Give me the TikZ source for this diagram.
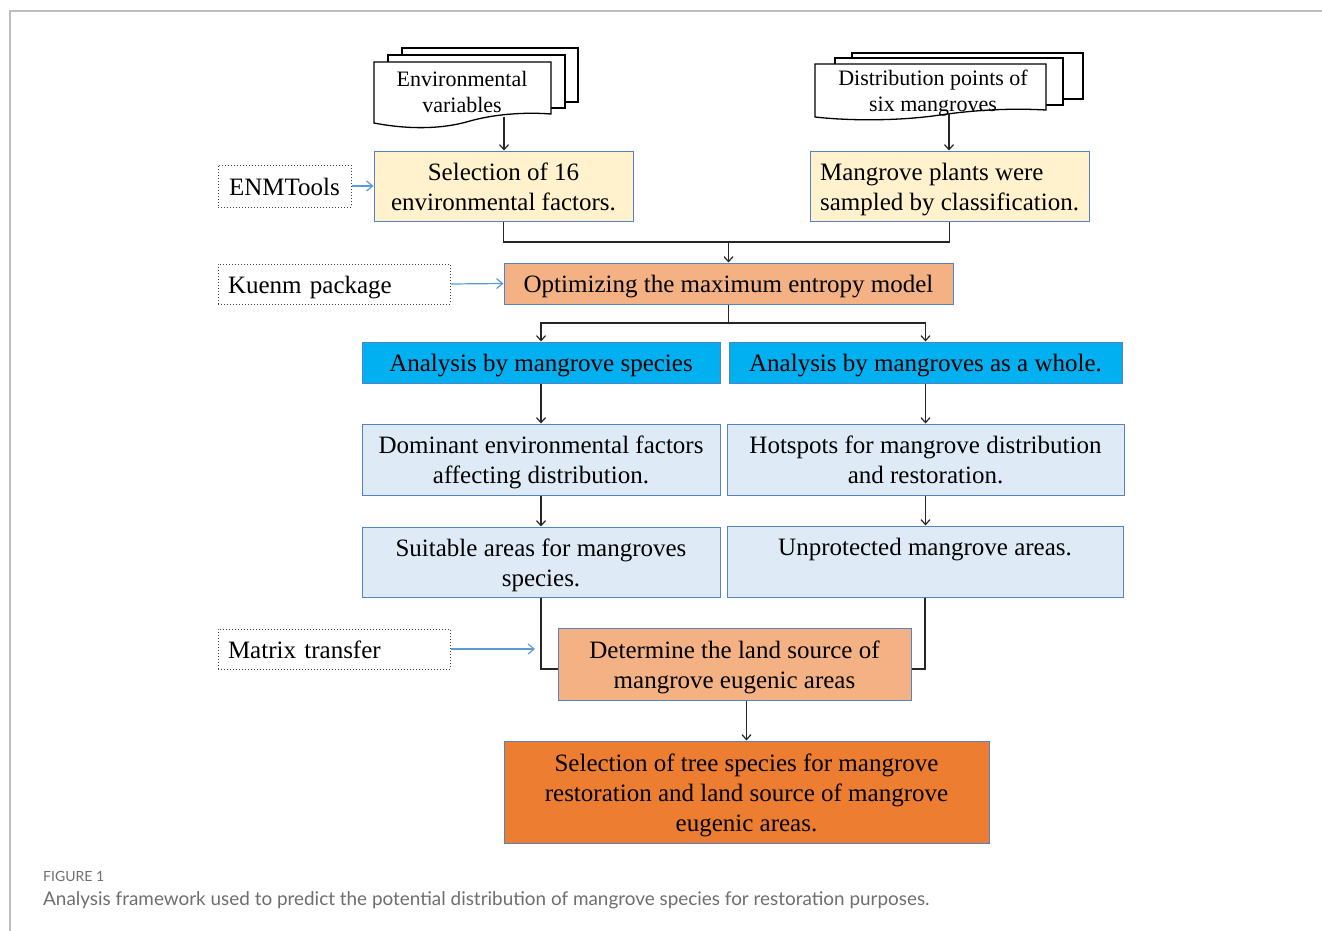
\documentclass[tikz,border=0pt]{standalone}
\usepackage{fontspec}
\setmainfont{Liberation Serif}
\newfontfamily\capfont{Lato}
\usetikzlibrary{arrows.meta,calc}
\newcommand\mys{\rule[-6pt]{0pt}{30pt}}
\newcommand\dys{\rule[-6pt]{0pt}{26pt}}
\definecolor{bord}{RGB}{84,130,195}
\definecolor{yel}{HTML}{FFF2CC}
\definecolor{salm}{HTML}{F4B183}
\definecolor{bblue}{HTML}{00B0F0}
\definecolor{lblue}{HTML}{DEEBF7}
\definecolor{orng}{HTML}{ED7D31}
\definecolor{arrblue}{HTML}{5B9BD5}
\definecolor{framegray}{RGB}{190,190,190}
\definecolor{capgray}{RGB}{110,110,110}
\tikzset{
  box/.style={draw=bord, line width=1pt, inner sep=0pt, align=center,
    font=\fontsize{25}{30}\selectfont},
  side/.style={draw=black!75, dotted, line width=1pt, inner sep=0pt, align=left,
    font=\fontsize{25}{30}\selectfont},
  doc/.style={draw=black, line width=1.3pt, fill=white},
  arr/.style={draw=black!85, line width=1.2pt, -{Straight Barb[length=5pt,width=9pt]}},
  ln/.style={draw=black!85, line width=1.2pt},
  barr/.style={draw=arrblue, line width=1.2pt, -{Straight Barb[length=6pt,width=10pt]}},
  doctext/.style={align=center, inner sep=0pt, font=\fontsize{22}{26}\selectfont}
}
\begin{document}
\begin{tikzpicture}[x=1pt,y=-1pt]
\useasboundingbox (0,0) rectangle (1322,931);
% frame
\draw[framegray, line width=1.2pt] (10,931) -- (10,11) -- (1322,11);

% document stack 1
\draw[doc] (402,48) rectangle (578,102);
\draw[doc] (388,55) rectangle (565,108);
\draw[doc] (374,62) -- (551,62) -- (551,114)
  .. controls (525,112) and (495,114) .. (470,121)
  .. controls (440,130) and (405,129) .. (374,123) -- cycle;
\node[doctext] (env) at (462,93) {\dys Environmental\\\dys variables};
\coordinate (envb) at (504,117);

% document stack 2
\draw[doc] (852,53) rectangle (1083,99);
\draw[doc] (835,58) rectangle (1063,105);
\draw[doc] (815,64) -- (1046,64) -- (1046,110)
  .. controls (1010,108) and (975,110) .. (940,115)
  .. controls (900,121) and (850,121) .. (815,117) -- cycle;
\node[doctext] (dist) at (933,92) {\dys Distribution points of\\\dys six mangroves};
\coordinate (distb) at (949,113);

% main boxes
\node[box, fill=yel, minimum width=259pt, minimum height=70pt] (sel) at (503.5,186)
  {\mys Selection of 16\\\mys environmental factors.};
\node[box, fill=yel, minimum width=279pt, minimum height=70pt, align=left] (msamp) at (949.5,186)
  {\mys Mangrove plants were\\\mys sampled by classification.};
\node[side, minimum width=133pt, minimum height=42pt] (enm) at (284.5,186) {\mys ENMTools};
\node[side, minimum width=232pt, minimum height=40pt, text width=212pt] (kuenm) at (334,284) {\mys Kuenm package};
\node[box, fill=salm, minimum width=449pt, minimum height=41pt] (opt) at (728.5,283.5)
  {\mys Optimizing the maximum entropy model};
\node[box, fill=bblue, minimum width=358pt, minimum height=41pt] (asp) at (541,362.5)
  {\mys Analysis by mangrove species};
\node[box, fill=bblue, minimum width=393pt, minimum height=41pt] (awh) at (925.5,362.5)
  {\mys Analysis by mangroves as a whole.};
\node[box, fill=lblue, minimum width=358pt, minimum height=71pt] (dom) at (541,459.5)
  {\mys Dominant environmental factors\\\mys affecting distribution.};
\node[box, fill=lblue, minimum width=397pt, minimum height=71pt] (hot) at (925.5,459.5)
  {\mys Hotspots for mangrove distribution\\\mys and restoration.};
\node[box, fill=lblue, minimum width=358pt, minimum height=70pt] (suit) at (541,562)
  {\mys Suitable areas for mangroves\\\mys species.};
\node[box, fill=lblue, minimum width=396pt, minimum height=71pt] (unp) at (925,561.5)
  {\mys Unprotected mangrove areas.\\\mys};
\node[side, minimum width=232pt, minimum height=40pt, text width=212pt] (mtx) at (334,649) {\mys Matrix transfer};
\node[box, fill=salm, minimum width=353pt, minimum height=72pt] (det) at (734.5,664)
  {\mys Determine the land source of\\\mys mangrove eugenic areas};
\node[box, fill=orng, minimum width=485pt, minimum height=102pt] (fin) at (746.5,792)
  {\mys Selection of tree species for mangrove\\\mys restoration and land source of mangrove\\\mys eugenic areas.};
\coordinate (mt) at (535,649);

% connectors
\draw[arr] (envb) -- (sel.north -| envb);
\draw[arr] (distb) -- (msamp.north -| distb);
\coordinate (j1) at (728.5,242);
\draw[ln] (sel.south) |- (j1) -| (msamp.south);
\draw[arr] (j1) -- (opt.north);
\coordinate (j2) at (728.5,323);
\draw[ln] (opt.south) -- (j2);
\draw[arr] (j2) -| (asp.north);
\draw[arr] (j2) -| (awh.north);
\draw[arr] (asp.south) -- (dom.north);
\draw[arr] (awh.south) -- (hot.north -| awh.south);
\draw[arr] (dom.south) -- (suit.north);
\draw[arr] (hot.south) -- (unp.north -| hot.south);
\draw[ln] (suit.south) |- ([yshift=-5pt]det.west);
\draw[ln] (unp.south) |- ([yshift=-5pt]det.east);
\draw[arr] (fin.north |- det.south) -- (fin.north);
\draw[barr] (enm.east) -- (sel.west);
\draw[barr] (kuenm.east) -- (opt.west);
\draw[barr] (mtx.east) -- (mt);

% caption
\node[anchor=base west, inner sep=0pt, text=capgray, font=\capfont\fontsize{14}{16}\selectfont] (figlab) at (43,881) {FIGURE 1};
\node[anchor=base west, inner sep=0pt, text=capgray, font=\capfont\fontsize{18.9}{22}\selectfont] (cap) at (43,905)
  {Analysis framework used to predict the potential distribution of mangrove species for restoration purposes.};
\end{tikzpicture}
\end{document}
